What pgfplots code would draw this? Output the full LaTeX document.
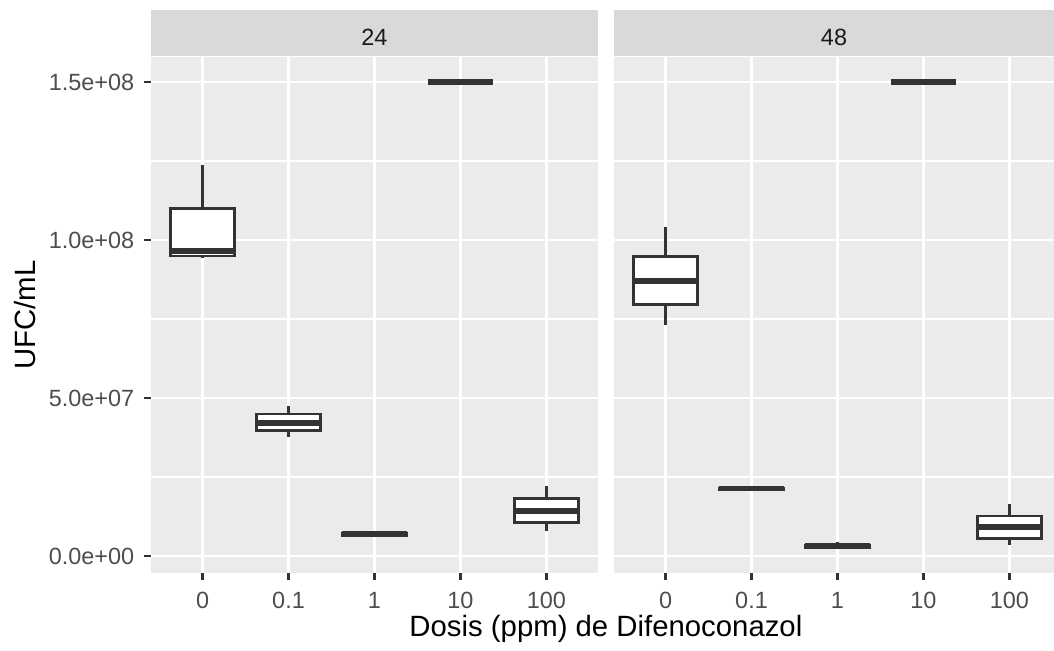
\documentclass[border=0pt]{standalone}
\usepackage{fontspec}
\setmainfont{Liberation Sans}
\usepackage{pgfplots}
\pgfplotsset{compat=1.18}

\definecolor{panelbg}{HTML}{EBEBEB}
\definecolor{stripbg}{HTML}{D9D9D9}
\definecolor{g20}{HTML}{333333}
\definecolor{g30}{HTML}{4D4D4D}
\definecolor{g10}{HTML}{1A1A1A}

% 1 px of the reference = 0.375pt
\pgfplotsset{
  facet/.style={
    scale only axis, height=193.5pt,
    xmin=-0.6, ymin=-5.4e6, ymax=1.579e8,
    axis background/.style={fill=panelbg},
    axis line style={draw=none},
    scaled y ticks=false,
    tick align=outside, major tick length=2.75pt, minor tick length=0pt,
    tick style={color=g20, line width=1.07pt},
    xtick={0,1,2,3,4}, xticklabels={0,0.1,1,10,100},
    ytick={0,5e7,1e8,1.5e8},
    minor ytick={2.5e7,7.5e7,1.25e8},
    grid=both,
    major grid style={white, line width=1.07pt},
    minor grid style={white, line width=0.53pt},
    xtick pos=left, ytick pos=left,
    tick label style={font=\fontsize{8.8}{10}\selectfont, text=g30},
    xticklabel style={yshift=-1pt},
    every axis title shift=0pt,
    title style={at={(axis description cs:0.5,1)}, anchor=south, yshift=0pt,
      fill=stripbg, inner sep=0pt, minimum height=17.25pt,
      text height=9.3pt, text depth=0pt,
      font=\fontsize{8.8}{10}\selectfont, text=g10},
  },
  bx/.style={draw=g20, fill=white, line width=1.07pt},
  wk/.style={draw=g20, line width=1.07pt},
  md/.style={draw=g20, line width=2.13pt},
}

\begin{document}
\begin{tikzpicture}
\useasboundingbox (-56.625pt,-28.875pt) rectangle (338.625pt,214.875pt);

% ---- panel 24 ----
\begin{axis}[facet, at={(0pt,0pt)}, anchor=south west,
  width=167.625pt, xmax=4.6,
  title={24}, title style={minimum width=167.625pt},
  yticklabels={0.0e+00,5.0e+07,1.0e+08,1.5e+08},
  ylabel={UFC/mL},
  ylabel style={font=\fontsize{11}{13}\selectfont, at={([xshift=-47.25pt]axis description cs:0,0.5)}, anchor=center},
  xlabel={Dosis (ppm) de Difenoconazol},
  xlabel style={font=\fontsize{11}{13}\selectfont, at={([xshift=170.6pt,yshift=-23.9pt]axis description cs:0,0)}, anchor=base},
  ]
  % dose 0
  \addplot[wk] coordinates {(0,9.43e7) (0,1.237e8)};
  \addplot[bx] coordinates {(-0.375,9.49e7) (0.375,9.49e7) (0.375,1.10e8) (-0.375,1.10e8)} -- cycle;
  \addplot[md] coordinates {(-0.375,9.65e7) (0.375,9.65e7)};
  % dose 0.1
  \addplot[wk] coordinates {(1,3.78e7) (1,4.76e7)};
  \addplot[bx] coordinates {(0.625,3.97e7) (1.375,3.97e7) (1.375,4.49e7) (0.625,4.49e7)} -- cycle;
  \addplot[md] coordinates {(0.625,4.20e7) (1.375,4.20e7)};
  % dose 1
  \addplot[wk] coordinates {(2,6.5e6) (2,7.3e6)};
  \addplot[bx] coordinates {(1.625,6.6e6) (2.375,6.6e6) (2.375,7.2e6) (1.625,7.2e6)} -- cycle;
  \addplot[md] coordinates {(1.625,6.9e6) (2.375,6.9e6)};
  % dose 10
  \addplot[md] coordinates {(2.625,1.5e8) (3.375,1.5e8)};
  % dose 100
  \addplot[wk] coordinates {(4,7.9e6) (4,2.215e7)};
  \addplot[bx] coordinates {(3.625,1.054e7) (4.375,1.054e7) (4.375,1.826e7) (3.625,1.826e7)} -- cycle;
  \addplot[md] coordinates {(3.625,1.424e7) (4.375,1.424e7)};
\end{axis}

% ---- panel 48 ----
\begin{axis}[facet, at={(173.625pt,0pt)}, anchor=south west,
  width=165pt, xmax=4.519,
  title={48}, title style={minimum width=165pt},
  yticklabels={}, ytick style={draw=none},
  ]
  % dose 0
  \addplot[wk] coordinates {(0,7.31e7) (0,1.040e8)};
  \addplot[bx] coordinates {(-0.375,7.96e7) (0.375,7.96e7) (0.375,9.47e7) (-0.375,9.47e7)} -- cycle;
  \addplot[md] coordinates {(-0.375,8.70e7) (0.375,8.70e7)};
  % dose 0.1
  \addplot[bx] coordinates {(0.625,2.11e7) (1.375,2.11e7) (1.375,2.15e7) (0.625,2.15e7)} -- cycle;
  \addplot[md] coordinates {(0.625,2.13e7) (1.375,2.13e7)};
  % dose 1
  \addplot[wk] coordinates {(2,2.2e6) (2,4.3e6)};
  \addplot[bx] coordinates {(1.625,2.7e6) (2.375,2.7e6) (2.375,3.4e6) (1.625,3.4e6)} -- cycle;
  \addplot[md] coordinates {(1.625,3.07e6) (2.375,3.07e6)};
  % dose 10
  \addplot[md] coordinates {(2.625,1.5e8) (3.375,1.5e8)};
  % dose 100
  \addplot[wk] coordinates {(4,3.48e6) (4,1.646e7)};
  \addplot[bx] coordinates {(3.625,5.49e6) (4.375,5.49e6) (4.375,1.266e7) (3.625,1.266e7)} -- cycle;
  \addplot[md] coordinates {(3.625,9.07e6) (4.375,9.07e6)};
\end{axis}
\end{tikzpicture}
\end{document}
